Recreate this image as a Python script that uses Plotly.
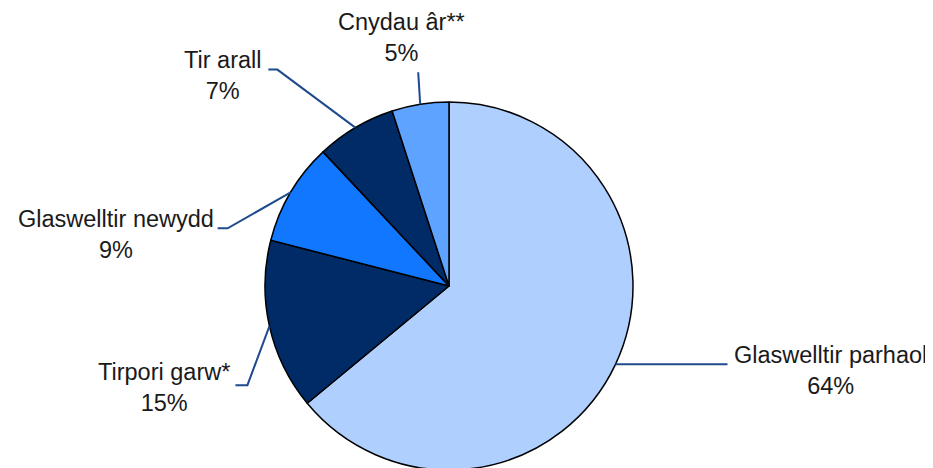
import numpy as np
import plotly.graph_objects as go

# data
labels = ["Glaswelltir parhaol", "Tirpori garw*", "Glaswelltir newydd", "Tir arall", "Cnydau âr**"]
values = [64, 15, 9, 7, 5]
colors = ["#AFD0FF", "#002B66", "#1177FF", "#002B66", "#5EA3FF"]

W, H = 933, 468
OFF = 8  # page body margin in the browser
cx, cy, r = 449 - OFF, 286 - OFF, 184  # pie centre / radius in figure pixels

# leader line layout per slice: elbow offset from slice edge, horizontal run, label side
leader = [
    dict(elbow=(0, 0), run=112, side="left", gap=5, dy=6),
    dict(elbow=(-22, 59), run=-12, side="right", gap=3, dy=2),
    dict(elbow=(-63, 36), run=-10, side="right", gap=2, dy=6),
    dict(elbow=(-78, -58), run=-9, side="right", gap=5, dy=6),
    dict(elbow=(-2, -32), run=0, side="top", gap=4, dy=0),
]


def px(x, y):
    return x / W, 1 - y / H


fig = go.Figure()
fig.add_trace(go.Pie(
    labels=labels, values=values, sort=False, direction="clockwise", rotation=0,
    marker=dict(colors=colors, line=dict(color="#000000", width=1.5)),
    textinfo="none", hoverinfo="label+percent", showlegend=False,
    domain=dict(x=[(cx - r) / W, (cx + r) / W], y=[(H - cy - r) / H, (H - cy + r) / H]),
))

total = sum(values)
cum = 0
for lab, v, ld in zip(labels, values, leader):
    mid = (cum + v / 2) / total * 2 * np.pi
    cum += v
    ex, ey = cx + r * np.sin(mid), cy - r * np.cos(mid)
    bx, by = ex + ld["elbow"][0], ey + ld["elbow"][1]
    tx, ty = bx + ld["run"], by
    pts = [px(ex, ey), px(bx, by), px(tx, ty)]
    path = "M " + " L ".join(f"{a:.5f},{b:.5f}" for a, b in pts)
    fig.add_shape(type="path", path=path, xref="paper", yref="paper",
                  line=dict(color="#1F4A8F", width=2))

    text = f"{lab}<br>{round(v / total * 100)}%"
    if ld["side"] == "left":
        ax, ay = px(tx + ld["gap"], ty + ld["dy"])
        xa, ya = "left", "middle"
    elif ld["side"] == "right":
        ax, ay = px(tx - ld["gap"], ty + ld["dy"])
        xa, ya = "right", "middle"
    else:
        ax, ay = px(tx - 17, ty - ld["gap"])
        xa, ya = "center", "bottom"
    fig.add_annotation(x=ax, y=ay, xref="paper", yref="paper", text=text,
                       showarrow=False, xanchor=xa, yanchor=ya, align="center",
                       font=dict(family="Liberation Sans, Arial", size=23.5, color="#1a1a1a"))

fig.update_layout(
    width=W, height=H,
    margin=dict(t=0, l=0, r=0, b=0),
    paper_bgcolor="white", plot_bgcolor="white",
)

fig.write_html("out.html")
